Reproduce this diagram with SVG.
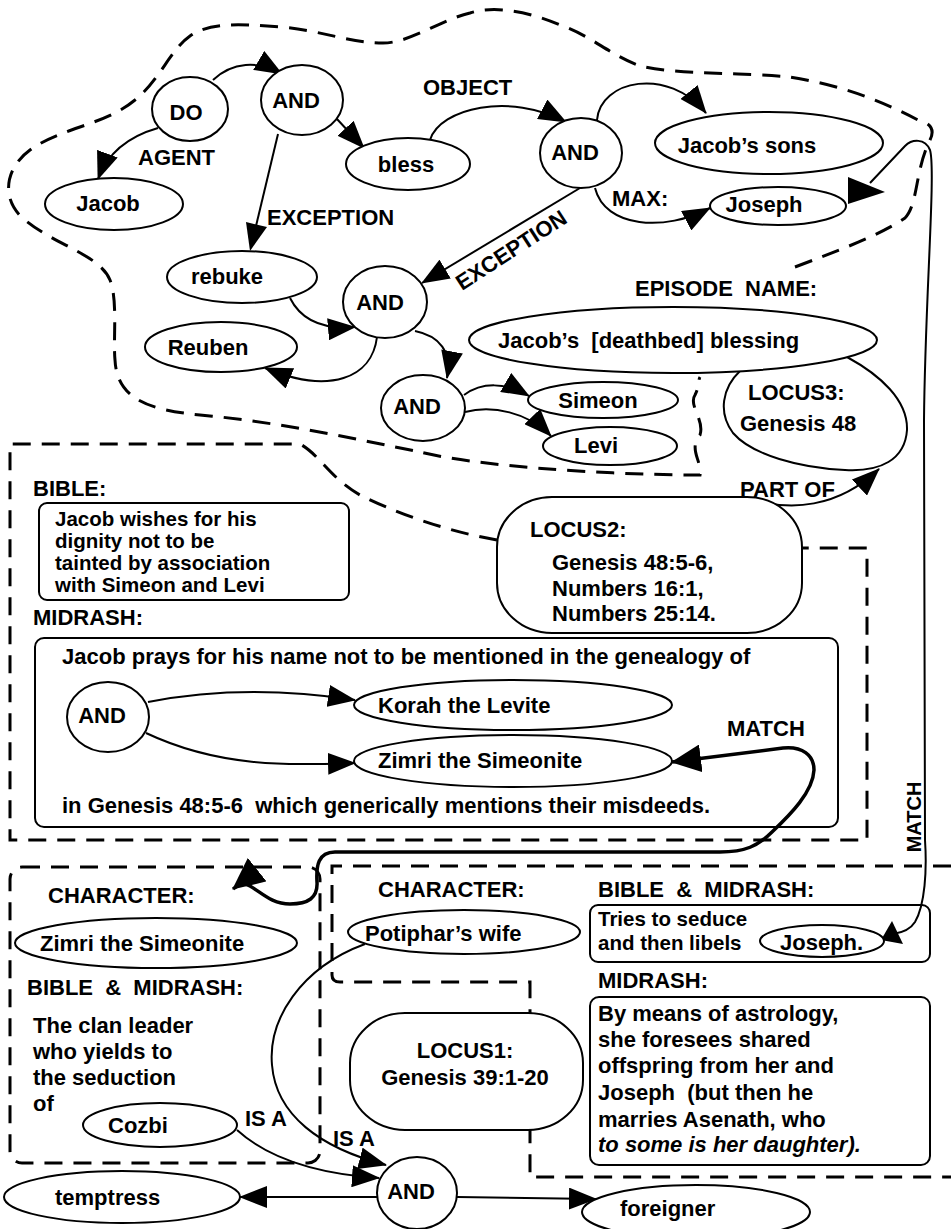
<svg xmlns="http://www.w3.org/2000/svg" width="951" height="1229" viewBox="0 0 951 1229">
<defs>
<style>
text{font-family:"Liberation Sans",Arial,Helvetica,sans-serif;font-weight:bold;font-size:22px;fill:#000}
.m{text-anchor:middle}
.s{font-size:20.5px}
.n{fill:#fff;stroke:#000;stroke-width:2}
.b{fill:none;stroke:#000;stroke-width:2}
.w{fill:#fff;stroke:#000;stroke-width:2}
.c{fill:none;stroke:#000;stroke-width:2}
.t{fill:none;stroke:#000;stroke-width:3.5}
.d{fill:none;stroke:#000;stroke-width:3;stroke-dasharray:18 11}
.h{fill:#000;stroke:none}
</style>
<marker id="ah" viewBox="0 0 28 22" refX="27" refY="11" markerWidth="28" markerHeight="22" markerUnits="userSpaceOnUse" orient="auto"><path d="M0,0 L28,11 L0,22 z"/></marker>
<marker id="ahb" viewBox="0 0 32 30" refX="31" refY="15" markerWidth="32" markerHeight="30" markerUnits="userSpaceOnUse" orient="auto"><path d="M0,0 L32,15 L0,30 z"/></marker>
<marker id="ahbs" viewBox="0 0 30 28" refX="29" refY="14" markerWidth="30" markerHeight="28" markerUnits="userSpaceOnUse" orient="auto-start-reverse"><path d="M0,0 L30,14 L0,28 z"/></marker>
</defs>
<rect width="951" height="1229" fill="#fff"/>

<g id="regions">
<path class="d" d="M795,267 C840,250 880,235 905,218 C918,205 915,170 930,140 C936,128 928,122 918,120 C880,100 840,85 790,77 C740,72 680,75 640,66 C610,55 590,35 560,25 C530,12 495,5 470,13 C440,20 410,43 383,43 C350,43 320,30 280,27 C240,24 210,22 190,36 C170,50 160,80 135,100 C105,125 60,128 30,150 C5,168 0,200 25,220 C55,245 100,255 110,280 C118,300 113,340 115,360 C117,400 150,410 200,415 C280,422 360,440 420,452 C470,465 600,475 700,475 C702,460 688,450 700,435 C705,420 688,405 695,395 C700,385 698,380 700,377"/>
<path class="d" d="M497,540 C440,530 390,510 360,495 C330,478 320,455 300,444 L10,444 L10,840 L867,840 L867,548 L803,548"/>
<rect class="d" x="10" y="867" width="310" height="296" rx="12"/>
<path class="d" d="M951,866 L332,866 L332,975 Q332,982 340,982 L530,982 L530,1177 L951,1177"/>
</g>

<g id="connectors">
<path class="c" d="M213,80 C232,62 258,60 282,74" marker-end="url(#ah)"/>
<path class="c" d="M158,128 C130,136 108,152 98,179" marker-end="url(#ah)"/>
<path class="c" d="M336,118 L364,148" marker-end="url(#ah)"/>
<path class="c" d="M278,134 L256,226"/>
<polygon class="h" points="250,251 267,227 246,222"/>
<path class="c" d="M430,140 C440,108 510,92 566,122" marker-end="url(#ah)"/>
<path class="c" d="M597,120 C600,80 668,66 706,113" marker-end="url(#ah)"/>
<path class="c" d="M595,188 C605,228 665,232 710,208" marker-end="url(#ah)"/>
<path class="c" d="M580,188 L422,283" marker-end="url(#ah)"/>
<path class="c" d="M290,298 C300,318 320,330 355,327" marker-end="url(#ah)"/>
<path class="c" d="M377,337 C372,378 330,395 265,368" marker-end="url(#ah)"/>
<path class="c" d="M415,331 C440,336 452,352 447,378" marker-end="url(#ah)"/>
<path class="c" d="M464,395 C482,382 505,382 529,396" marker-end="url(#ah)"/>
<path class="c" d="M465,412 C492,405 528,412 551,436" marker-end="url(#ah)"/>
<path class="c" d="M847,357 C880,375 908,400 907,430 C905,460 880,472 845,470 C800,468 752,455 733,433 C718,413 722,388 740,371"/>
<path class="c" d="M748,498 C790,512 838,508 879,469" marker-end="url(#ah)"/>
<path class="c" d="M148,702 C220,688 290,690 355,700" marker-end="url(#ah)"/>
<path class="c" d="M146,733 C220,768 290,765 355,763" marker-end="url(#ah)"/>
<path class="t" d="M672,762 L783,748 C802,746 814,755 814,770 C813,792 790,815 772,832 C758,846 745,852 720,852 L335,852 C318,852 316,866 317,882 C318,898 308,904 290,904 C272,904 262,893 250,886 C243,882 238,885 233,889" marker-start="url(#ahbs)" marker-end="url(#ahb)"/>
<path class="c" d="M870,183 L905,146 C912,139 925,138 930,150 C936,170 925,300 924,420 L925,840 C927,870 925,905 915,922 C910,930 900,933 893,934"/>
<polygon class="h" points="848,177 885,192 848,204"/>
<polygon class="h" points="892,921 903,944 881,940"/>
<path class="c" d="M365,944 C300,968 268,1020 272,1065 C276,1115 320,1148 386,1165" marker-end="url(#ah)"/>
<path class="c" d="M237,1130 C270,1160 320,1174 379,1178" marker-end="url(#ah)"/>
<path class="c" d="M377,1197 L240,1197" marker-end="url(#ah)"/>
<path class="c" d="M457,1197 L596,1199" marker-end="url(#ah)"/>
</g>

<g id="edge-labels">
<text x="138" y="165">AGENT</text>
<text x="267" y="225">EXCEPTION</text>
<text x="423" y="95">OBJECT</text>
<text x="612" y="206">MAX:</text>
<text transform="translate(462,291) rotate(-33)">EXCEPTION</text>
<text x="740" y="497">PART OF</text>
<text x="727" y="736">MATCH</text>
<text class="m" style="font-size:20px" transform="translate(921,817) rotate(-90)">MATCH</text>
<text x="245" y="1126">IS A</text>
<text x="333" y="1146">IS A</text>
</g>

<g id="n-do"><ellipse class="n" cx="190" cy="109" rx="38" ry="32"/><text class="m" x="186" y="120">DO</text></g>
<g id="n-and1"><ellipse class="n" cx="302" cy="100" rx="41" ry="35"/><text class="m" x="296" y="108">AND</text></g>
<g id="n-jacob"><ellipse class="n" cx="114" cy="204" rx="69" ry="26"/><text class="m" x="108" y="211">Jacob</text></g>
<g id="n-bless"><ellipse class="n" cx="408" cy="164" rx="62" ry="26"/><text class="m" x="406" y="172">bless</text></g>
<g id="n-rebuke"><ellipse class="n" cx="242" cy="277" rx="75" ry="26"/><text class="m" x="227" y="284">rebuke</text></g>
<g id="n-and2"><ellipse class="n" cx="385" cy="302" rx="42" ry="36"/><text class="m" x="380" y="310">AND</text></g>
<g id="n-reuben"><ellipse class="n" cx="221" cy="347" rx="76" ry="25"/><text class="m" x="208" y="355">Reuben</text></g>
<g id="n-and3"><ellipse class="n" cx="423" cy="408" rx="42" ry="33"/><text class="m" x="417" y="414">AND</text></g>
<g id="n-simeon"><ellipse class="n" cx="603" cy="400" rx="75" ry="18"/><text class="m" x="598" y="408">Simeon</text></g>
<g id="n-levi"><ellipse class="n" cx="610" cy="446" rx="67" ry="19"/><text class="m" x="596" y="453">Levi</text></g>
<g id="n-and4"><ellipse class="n" cx="581" cy="153" rx="41" ry="35"/><text class="m" x="575" y="160">AND</text></g>
<g id="n-sons"><ellipse class="n" cx="769" cy="143" rx="114" ry="31"/><text class="m" x="747" y="153">Jacob’s sons</text></g>
<g id="n-joseph"><ellipse class="n" cx="778" cy="206" rx="68" ry="19"/><text class="m" x="764" y="212">Joseph</text></g>

<g id="n-episode">
<text x="635" y="296" xml:space="preserve">EPISODE  NAME:</text>
<ellipse class="n" cx="673" cy="340" rx="204" ry="33"/>
<text x="498" y="348" xml:space="preserve">Jacob’s  [deathbed] blessing</text>
</g>
<g id="n-locus3"><text x="748" y="400">LOCUS3:</text><text x="740" y="431">Genesis 48</text></g>
<g id="n-locus2">
<rect class="w" x="497" y="497" width="305" height="136" rx="55" ry="50"/>
<text x="530" y="537">LOCUS2:</text>
<text x="552" y="570">Genesis 48:5-6,</text>
<text x="552" y="596">Numbers 16:1,</text>
<text x="552" y="621">Numbers 25:14.</text>
</g>

<g id="n-bible">
<text x="33" y="496">BIBLE:</text>
<rect class="b" x="39" y="503" width="310" height="97" rx="8"/>
<text class="s" x="55" y="526">Jacob wishes for his</text>
<text class="s" x="55" y="548">dignity not to be</text>
<text class="s" x="55" y="570">tainted by association</text>
<text class="s" x="55" y="592">with Simeon and Levi</text>
</g>
<g id="n-midrash">
<text x="33" y="625">MIDRASH:</text>
<rect class="b" x="35" y="638" width="803" height="189" rx="9"/>
<text x="62" y="664">Jacob prays for his name not to be mentioned in the genealogy of</text>
<text x="62" y="813" xml:space="preserve">in Genesis 48:5-6  which generically mentions their misdeeds.</text>
</g>
<g id="n-and5"><ellipse class="n" cx="108" cy="717" rx="41" ry="35"/><text class="m" x="102" y="723">AND</text></g>
<g id="n-korah"><ellipse class="n" cx="513" cy="705" rx="159" ry="25"/><text x="378" y="713">Korah the Levite</text></g>
<g id="n-zimri1"><ellipse class="n" cx="513" cy="761" rx="159" ry="26"/><text x="378" y="768">Zimri the Simeonite</text></g>

<g id="n-character-zimri">
<text x="48" y="903">CHARACTER:</text>
<ellipse class="n" cx="156" cy="943" rx="141" ry="25"/>
<text x="40" y="951">Zimri the Simeonite</text>
<text x="27" y="995" xml:space="preserve">BIBLE  &amp;  MIDRASH:</text>
<text x="33" y="1033">The clan leader</text>
<text x="33" y="1059">who yields to</text>
<text x="33" y="1085">the seduction</text>
<text x="33" y="1111">of</text>
</g>
<g id="n-cozbi"><ellipse class="n" cx="160" cy="1125" rx="77" ry="22"/><text x="108" y="1133">Cozbi</text></g>
<g id="n-temptress"><ellipse class="n" cx="122" cy="1197" rx="118" ry="26"/><text x="55" y="1205">temptress</text></g>
<g id="n-and6"><ellipse class="n" cx="417" cy="1193" rx="40" ry="36"/><text class="m" x="411" y="1199">AND</text></g>
<g id="n-foreigner"><ellipse class="n" cx="696" cy="1212" rx="114" ry="27"/><text x="620" y="1216">foreigner</text></g>

<g id="n-character-potiphar">
<text x="378" y="897">CHARACTER:</text>
<ellipse class="n" cx="464" cy="932" rx="116" ry="22"/>
<text x="365" y="941">Potiphar’s wife</text>
</g>
<g id="n-locus1">
<rect class="w" x="350" y="1013" width="233" height="117" rx="55" ry="50"/>
<text class="m" x="465" y="1058">LOCUS1:</text>
<text class="m" x="465" y="1085">Genesis 39:1-20</text>
</g>
<g id="n-potiphar-text">
<text x="598" y="897" xml:space="preserve">BIBLE  &amp;  MIDRASH:</text>
<rect class="b" x="590" y="905" width="340" height="57" rx="8"/>
<text class="s" x="598" y="926">Tries to seduce</text>
<text class="s" x="598" y="950">and then libels</text>
<text x="598" y="988">MIDRASH:</text>
<rect class="b" x="590" y="997" width="340" height="168" rx="9"/>
<text x="598" y="1021">By means of astrology,</text>
<text x="598" y="1047">she foresees shared</text>
<text x="598" y="1073">offspring from her and</text>
<text x="598" y="1100" xml:space="preserve">Joseph  (but then he</text>
<text x="598" y="1127">marries Asenath, who</text>
<text x="598" y="1152" font-style="italic">to some is her daughter).</text>
</g>
<g id="n-joseph2"><ellipse class="n" cx="822" cy="941" rx="62" ry="16"/><text x="780" y="950">Joseph.</text></g>
</svg>
